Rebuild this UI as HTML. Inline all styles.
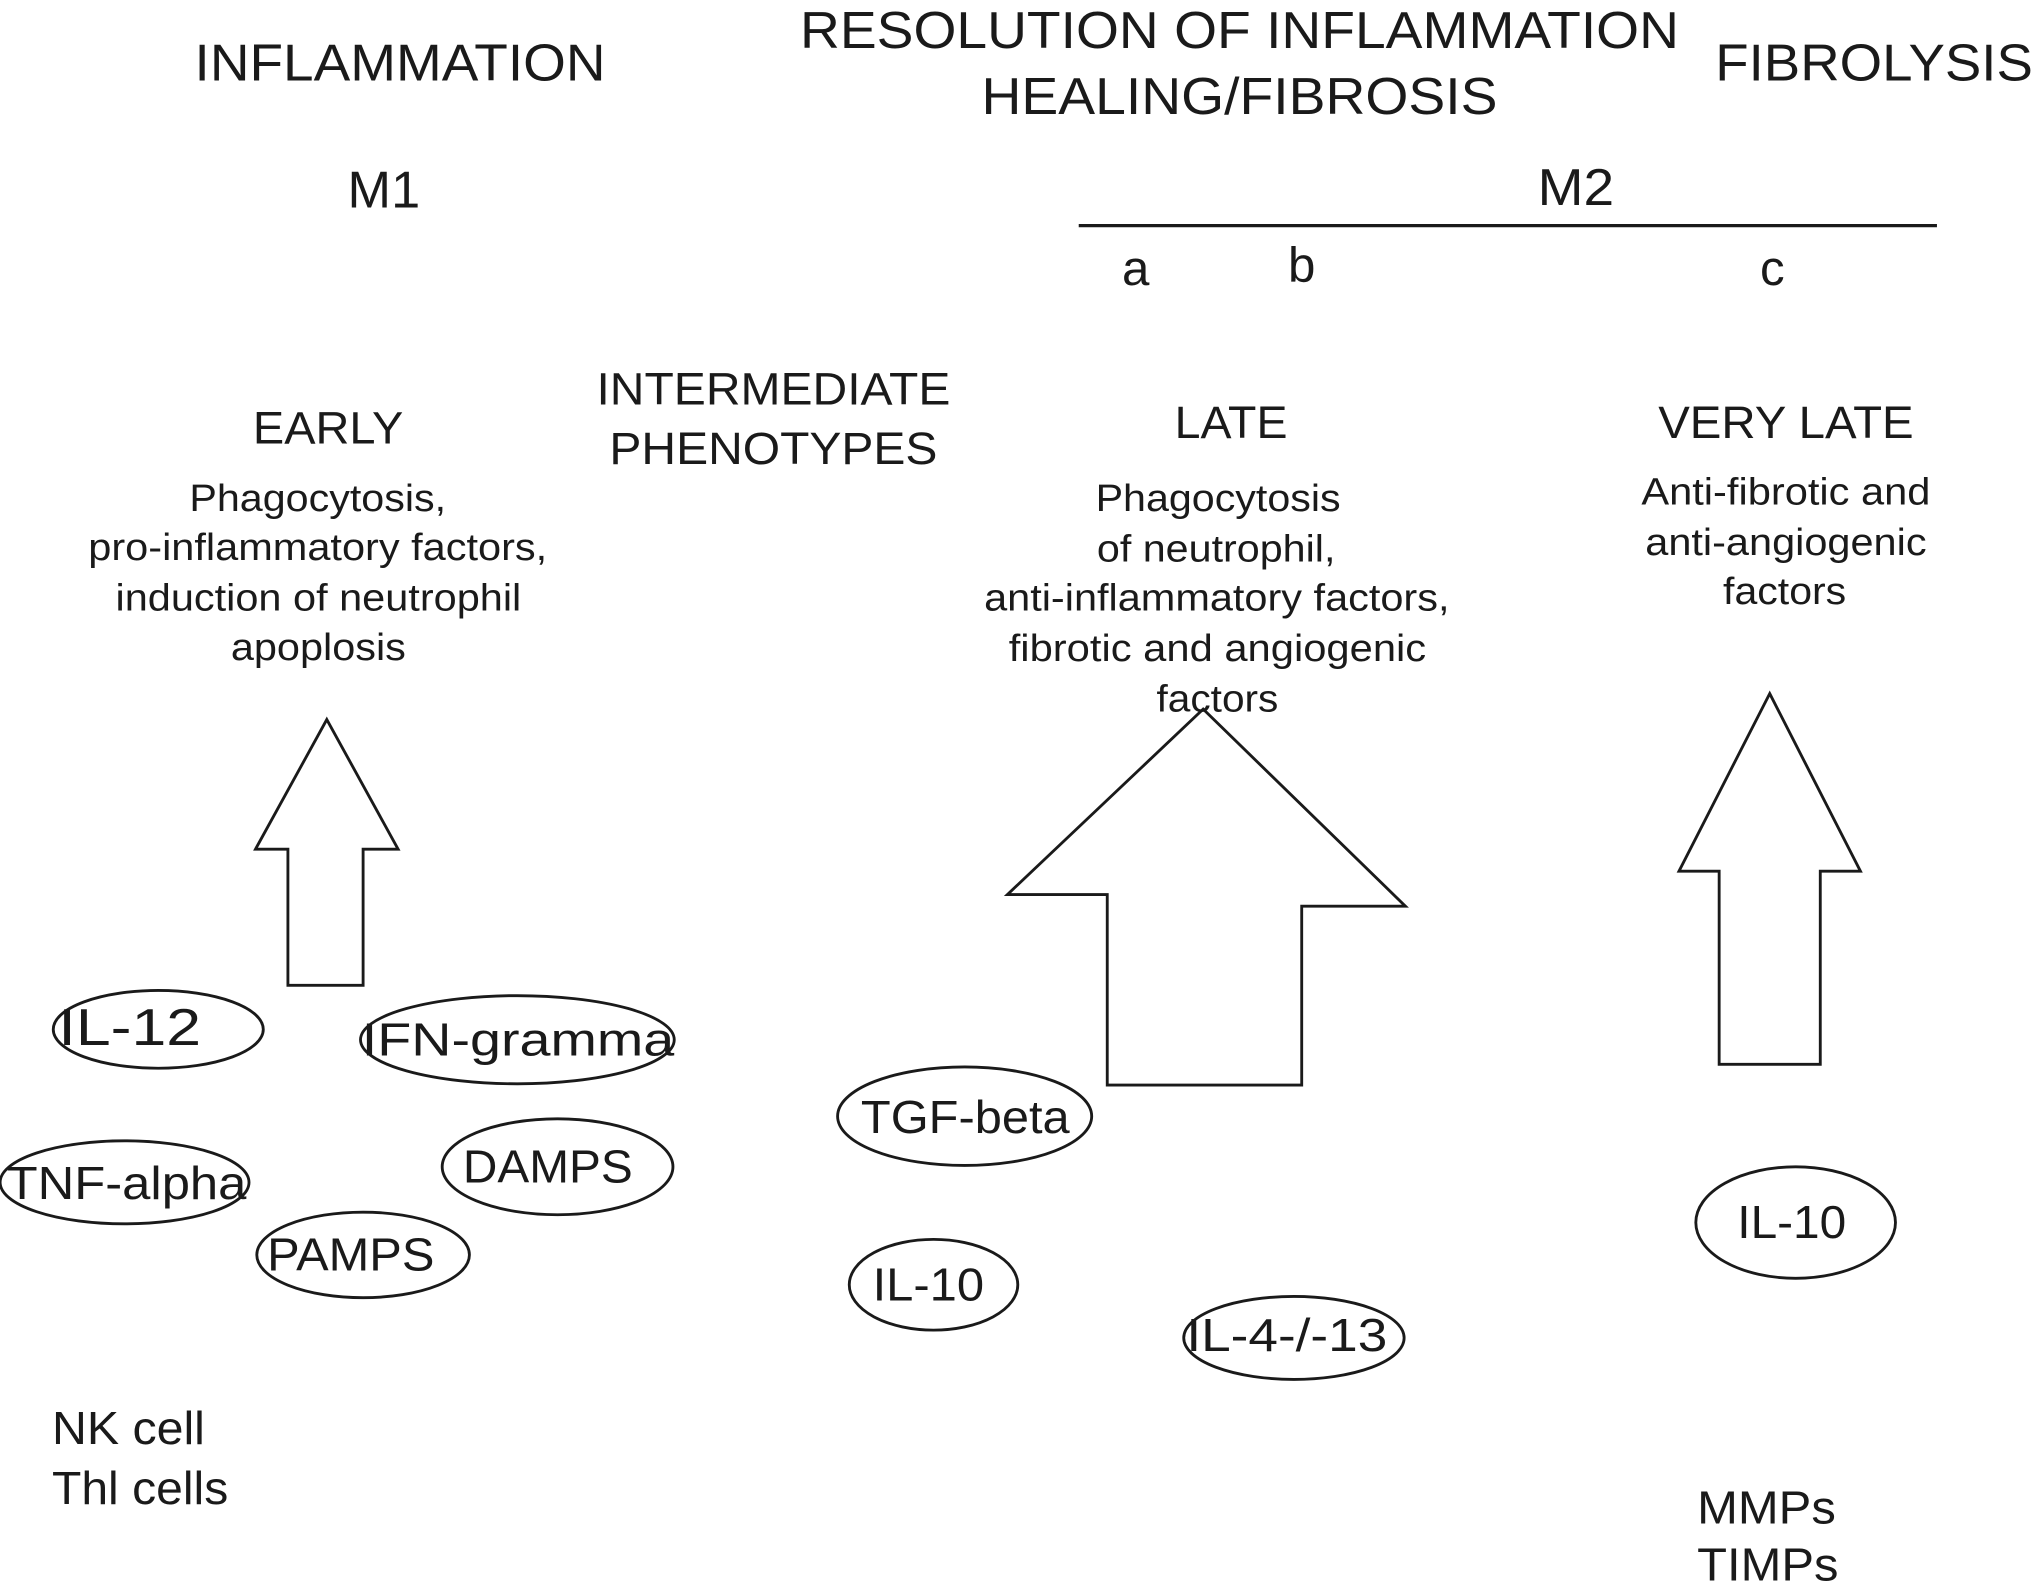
<!DOCTYPE html>
<html><head><meta charset="utf-8"><style>
html,body{margin:0;padding:0;background:#fff;}
svg{display:block;}
text{font-family:"Liberation Sans",Arial,sans-serif;fill:#1a1a1a;}
</style></head><body>
<svg width="2033" height="1592" viewBox="0 0 1568 1228" xmlns="http://www.w3.org/2000/svg">
<g font-size="40" lengthAdjust="spacingAndGlyphs">
<text x="150" y="62" textLength="317" lengthAdjust="spacingAndGlyphs">INFLAMMATION</text>
<text x="617" y="37" textLength="678" lengthAdjust="spacingAndGlyphs">RESOLUTION OF INFLAMMATION</text>
<text x="757" y="88" textLength="398" lengthAdjust="spacingAndGlyphs">HEALING/FIBROSIS</text>
<text x="1323" y="62" textLength="245" lengthAdjust="spacingAndGlyphs">FIBROLYSIS</text>
<text x="268" y="160" textLength="56" lengthAdjust="spacingAndGlyphs">M1</text>
<text x="1186" y="158" textLength="59" lengthAdjust="spacingAndGlyphs">M2</text>
</g>
<line x1="832" y1="174" x2="1494" y2="174" stroke="#1a1a1a" stroke-width="2.5"/>
<g font-size="38" text-anchor="middle">
<text x="876" y="220">a</text>
<text x="1004" y="217">b</text>
<text x="1367" y="220">c</text>
</g>
<g font-size="35">
<text x="460" y="312" textLength="273" lengthAdjust="spacingAndGlyphs">INTERMEDIATE</text>
<text x="470" y="358" textLength="253" lengthAdjust="spacingAndGlyphs">PHENOTYPES</text>
<text x="195" y="342" textLength="116" lengthAdjust="spacingAndGlyphs">EARLY</text>
<text x="906" y="338" textLength="87" lengthAdjust="spacingAndGlyphs">LATE</text>
<text x="1279" y="338" textLength="197" lengthAdjust="spacingAndGlyphs">VERY LATE</text>
</g>
<g font-size="29">
<text x="146" y="394" textLength="198" lengthAdjust="spacingAndGlyphs">Phagocytosis,</text>
<text x="68" y="432" textLength="354" lengthAdjust="spacingAndGlyphs">pro-inflammatory factors,</text>
<text x="89" y="471" textLength="313" lengthAdjust="spacingAndGlyphs">induction of neutrophil</text>
<text x="178" y="509" textLength="135" lengthAdjust="spacingAndGlyphs">apoplosis</text>
<text x="845" y="394" textLength="189" lengthAdjust="spacingAndGlyphs">Phagocytosis</text>
<text x="846" y="433" textLength="184" lengthAdjust="spacingAndGlyphs">of neutrophil,</text>
<text x="759" y="471" textLength="359" lengthAdjust="spacingAndGlyphs">anti-inflammatory factors,</text>
<text x="778" y="510" textLength="322" lengthAdjust="spacingAndGlyphs">fibrotic and angiogenic</text>
<text x="1266" y="389" textLength="223" lengthAdjust="spacingAndGlyphs">Anti-fibrotic and</text>
<text x="1269" y="428" textLength="217" lengthAdjust="spacingAndGlyphs">anti-angiogenic</text>
<text x="1329" y="466" textLength="95" lengthAdjust="spacingAndGlyphs">factors</text>
</g>
<g fill="#fff" stroke="#1a1a1a" stroke-width="2.2">
<polygon points="252,555 307,655 280,655 280,760 222,760 222,655 197,655"/>
<polygon points="928,547 1084,699 1004,699 1004,837 854,837 854,690 777,690"/>
<polygon points="1365,535 1435,672 1404,672 1404,821 1326,821 1326,672 1295,672"/>
</g>
<text x="892" y="549" font-size="29" textLength="94" lengthAdjust="spacingAndGlyphs">factors</text>
<g fill="none" stroke="#1a1a1a" stroke-width="2.2">
<ellipse cx="122" cy="794" rx="81" ry="30"/>
<ellipse cx="399" cy="802" rx="121" ry="34"/>
<ellipse cx="96" cy="912" rx="96" ry="32"/>
<ellipse cx="430" cy="900" rx="89" ry="37"/>
<ellipse cx="280" cy="968" rx="82" ry="33"/>
<ellipse cx="744" cy="861" rx="98" ry="38"/>
<ellipse cx="720" cy="991" rx="65" ry="35"/>
<ellipse cx="998" cy="1032" rx="85" ry="32"/>
<ellipse cx="1385" cy="943" rx="77" ry="43"/>
</g>
<g font-size="36">
<text x="45" y="806" font-size="40" textLength="110" lengthAdjust="spacingAndGlyphs">IL-12</text>
<text x="279" y="814" textLength="241" lengthAdjust="spacingAndGlyphs">IFN-gramma</text>
<text x="5" y="925" textLength="185" lengthAdjust="spacingAndGlyphs">TNF-alpha</text>
<text x="357" y="912" textLength="131" lengthAdjust="spacingAndGlyphs">DAMPS</text>
<text x="206" y="980" textLength="129" lengthAdjust="spacingAndGlyphs">PAMPS</text>
<text x="664" y="874" textLength="161" lengthAdjust="spacingAndGlyphs">TGF-beta</text>
<text x="673" y="1003" textLength="86" lengthAdjust="spacingAndGlyphs">IL-10</text>
<text x="915" y="1042" textLength="155" lengthAdjust="spacingAndGlyphs">IL-4-/-13</text>
<text x="1340" y="955" textLength="84" lengthAdjust="spacingAndGlyphs">IL-10</text>
</g>
<g font-size="36">
<text x="40" y="1114" textLength="118" lengthAdjust="spacingAndGlyphs">NK cell</text>
<text x="40" y="1160" textLength="136" lengthAdjust="spacingAndGlyphs">Thl cells</text>
<text x="1309" y="1175" textLength="107" lengthAdjust="spacingAndGlyphs">MMPs</text>
<text x="1309" y="1219" textLength="109" lengthAdjust="spacingAndGlyphs">TIMPs</text>
</g>
</svg>
</body></html>
